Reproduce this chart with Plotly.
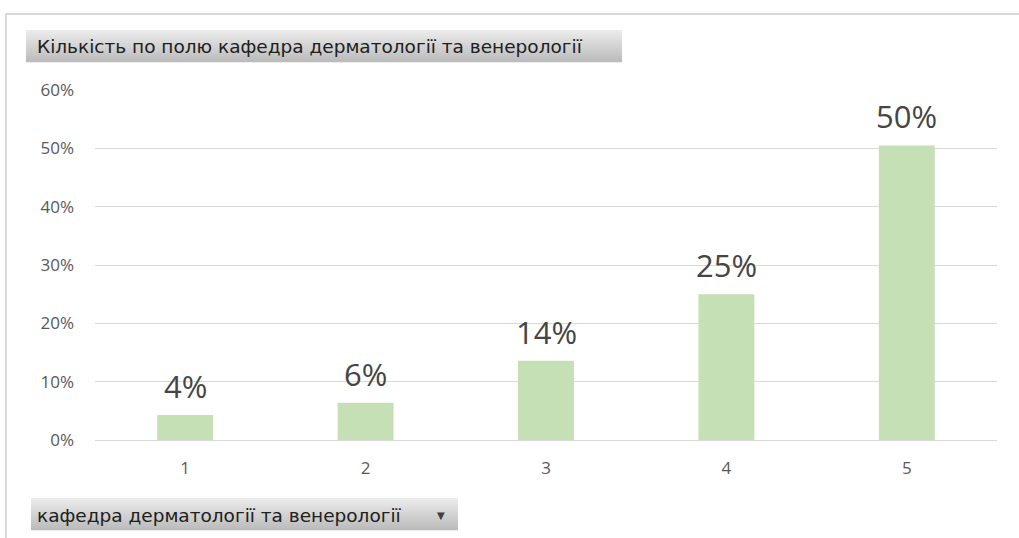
import plotly.graph_objects as go

categories = ["1", "2", "3", "4", "5"]
shares = [0.043, 0.064, 0.136, 0.25, 0.505]
y_ticks = [0, 0.1, 0.2, 0.3, 0.4, 0.5, 0.6]
title_text = "Кількість по полю кафедра дерматології та венерології"
filter_text = "кафедра дерматології та венерології"

W, H = 1019, 538
ML, MR, MT, MB = 95, 22, 90, 98
PW, PH = W - ML - MR, H - MT - MB

def px(x):
    return (x - ML) / PW

def py(y):
    return (H - MB - y) / PH

fig = go.Figure()
fig.add_trace(go.Bar(
    x=categories, y=shares,
    marker=dict(color="#c5e0b4", line=dict(width=0)),
    width=0.31, hoverinfo="skip",
))

for i, v in enumerate(shares):
    fig.add_annotation(
        x=i, y=v, xref="x", yref="y", text=f"{round(v*100)}%",
        showarrow=False, yanchor="middle", yshift=29,
        font=dict(family="Open Sans, sans-serif", size=31, color="#454545"),
    )

shapes = []
shapes.append(dict(type="rect", xref="paper", yref="paper",
                   x0=px(6), x1=px(1030), y0=py(14), y1=py(560),
                   line=dict(color="#d9d9d9", width=2), fillcolor="rgba(0,0,0,0)", layer="below"))

def gradient_box(x0, x1, y0, y1, top="#ebebeb", bottom="#bcbcbc", steps=16):
    def hx(c):
        return [int(c[i:i+2], 16) for i in (1, 3, 5)]
    a, b = hx(top), hx(bottom)
    h = (y1 - y0) / steps
    for i in range(steps):
        t = i / (steps - 1)
        col = "rgb(%d,%d,%d)" % tuple(round(a[k] + (b[k] - a[k]) * t) for k in range(3))
        shapes.append(dict(type="rect", xref="paper", yref="paper",
                           x0=px(x0), x1=px(x1), y0=py(y0 + i * h + h + 0.3), y1=py(y0 + i * h),
                           line=dict(width=0), fillcolor=col, layer="above"))

gradient_box(26, 622, 30, 62)
gradient_box(31, 458, 498, 530)
fig.update_layout(shapes=shapes)

hdr_font = dict(family="DejaVu Sans, sans-serif", size=18.5, color="#202020")
fig.add_annotation(xref="paper", yref="paper", x=px(35), y=py(46), xanchor="left", yanchor="middle",
                   text=title_text, showarrow=False, font=hdr_font)
fig.add_annotation(xref="paper", yref="paper", x=px(35), y=py(515), xanchor="left", yanchor="middle",
                   text=filter_text, showarrow=False, font=hdr_font)
fig.add_annotation(xref="paper", yref="paper", x=px(441), y=py(515), xanchor="center", yanchor="middle",
                   text="▼", showarrow=False,
                   font=dict(family="DejaVu Sans, sans-serif", size=10, color="#404040"))

fig.update_layout(
    width=W, height=H,
    margin=dict(l=ML, r=MR, t=MT, b=MB),
    paper_bgcolor="white", plot_bgcolor="white",
    showlegend=False,
    font=dict(family="Open Sans, sans-serif", color="#595959"),
)
fig.update_xaxes(
    type="category", range=[-0.5, 4.5],
    showgrid=False, showline=False, ticks="",
    tickfont=dict(size=17, color="#595959"),
    ticklabelstandoff=16,
)
fig.update_yaxes(
    range=[0, 0.6], tickvals=y_ticks, tickformat=".0%",
    showgrid=True, gridcolor="#d9d9d9", gridwidth=1,
    zeroline=True, zerolinecolor="#d9d9d9", zerolinewidth=1,
    showline=False, ticks="",
    tickfont=dict(size=17, color="#595959"),
    ticklabelstandoff=20,
)

fig.write_html("out.html", config={"displayModeBar": False},
               post_script="document.body.style.margin='0';document.body.style.overflow='hidden';")
